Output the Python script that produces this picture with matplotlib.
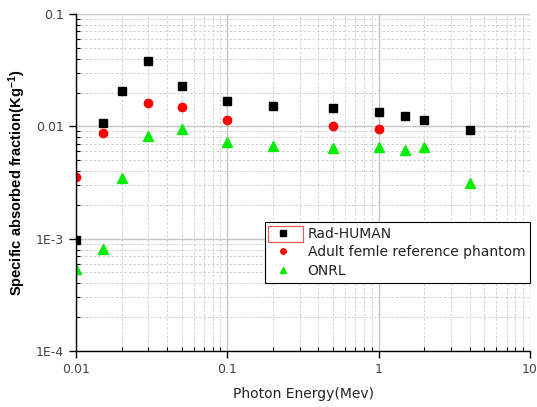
import numpy as np
import matplotlib
matplotlib.use("Agg")
import matplotlib.pyplot as plt
from matplotlib.patches import Rectangle
from matplotlib.ticker import LogLocator, FixedFormatter, FixedLocator, NullFormatter

plt.rcParams['font.family'] = ['DejaVu Sans']
plt.rcParams['mathtext.default'] = 'regular'

# data
radEnergy = [0.01, 0.015, 0.02, 0.03, 0.05, 0.1, 0.2, 0.5, 1.0, 1.5, 2.0, 4.0]
radSaf = [0.00098, 0.0106, 0.0205, 0.0382, 0.0227, 0.0169, 0.0153, 0.0147, 0.0133, 0.0123, 0.0115, 0.0093]

femEnergy = [0.01, 0.015, 0.03, 0.05, 0.1, 0.5, 1.0]
femSaf = [0.00352, 0.0088, 0.016, 0.0149, 0.0114, 0.0101, 0.0094]

onrlEnergy = [0.01, 0.015, 0.02, 0.03, 0.05, 0.1, 0.2, 0.5, 1.0, 1.5, 2.0, 4.0]
onrlSaf = [0.00054, 0.00081, 0.00344, 0.0082, 0.0095, 0.00726, 0.0067, 0.0064, 0.0065, 0.0062, 0.0066, 0.0031]

xTicks = [0.01, 0.1, 1, 10]
xTickLabels = ['0.01', '0.1', '1', '10']
yTicks = [1e-4, 1e-3, 0.01, 0.1]
yTickLabels = ['1E-4', '1E-3', '0.01', '0.1']

fig = plt.figure(figsize=(5.37, 4.07), dpi=100)
ax = fig.add_axes([0.1415, 0.1376, 0.8455, 0.828])

ax.set_xscale('log')
ax.set_yscale('log')
ax.set_xlim(0.01, 10)
ax.set_ylim(1e-4, 0.1)

# grid
ax.grid(True, which='major', color='#c4c4c4', linestyle='-', linewidth=1.0)
ax.grid(True, which='minor', color='#cfcfcf', linestyle=(0, (2.5, 2)), linewidth=0.7)
ax.set_axisbelow(True)

ax.plot(radEnergy, radSaf, 's', color='black', markersize=6, label='Rad-HUMAN')
ax.plot(femEnergy, femSaf, 'o', color='red', markersize=6, label='Adult femle reference phantom')
ax.plot(onrlEnergy, onrlSaf, '^', color='#00ee00', markersize=7, label='ONRL')

# ticks
ax.xaxis.set_major_locator(FixedLocator(xTicks))
ax.xaxis.set_major_formatter(FixedFormatter(xTickLabels))
ax.yaxis.set_major_locator(FixedLocator(yTicks))
ax.yaxis.set_major_formatter(FixedFormatter(yTickLabels))
ax.xaxis.set_minor_locator(LogLocator(base=10, subs=np.arange(2, 10), numticks=20))
ax.yaxis.set_minor_locator(LogLocator(base=10, subs=np.arange(2, 10), numticks=20))
ax.xaxis.set_minor_formatter(NullFormatter())
ax.yaxis.set_minor_formatter(NullFormatter())
ax.tick_params(which='major', direction='out', length=5, width=1, labelsize=9, labelcolor='#444444')
ax.tick_params(which='minor', direction='in', length=3, width=0.8)

for side in ['top', 'right']:
    ax.spines[side].set_visible(False)
for side in ['left', 'bottom']:
    ax.spines[side].set_linewidth(1.0)

ax.set_xlabel('Photon Energy(Mev)', fontsize=10, labelpad=8, color='#222222')
ax.set_ylabel('Specific absorbed fraction(Kg$^{-1}$)', fontsize=10.5, fontweight='bold',
              family='Liberation Sans', labelpad=6)

leg = ax.legend(loc='upper right', bbox_to_anchor=(1.0, 0.383), borderaxespad=0,
                fancybox=False, edgecolor='black', framealpha=1, fontsize=10,
                handlelength=1.8, handletextpad=0.9, borderpad=0.35, labelspacing=0.32,
                markerscale=0.65)
leg.get_frame().set_linewidth(0.8)
for t in leg.get_texts():
    t.set_color('#222222')

# red selection box around the first legend entry's symbol
fig.canvas.draw()
renderer = fig.canvas.get_renderer()
frameBox = leg.get_frame().get_window_extent(renderer)
textBox = leg.get_texts()[0].get_window_extent(renderer)
inv = fig.transFigure.inverted()
(x0, y0) = inv.transform((frameBox.x0 + 3, textBox.y0 - 1))
(x1, y1) = inv.transform((textBox.x0 - 5, textBox.y1 + 1))
fig.patches.append(Rectangle((x0, y0), x1 - x0, y1 - y0, transform=fig.transFigure,
                             fill=False, edgecolor='#ff5050', linewidth=0.8, zorder=10))

fig.savefig('out.png', dpi=100)
